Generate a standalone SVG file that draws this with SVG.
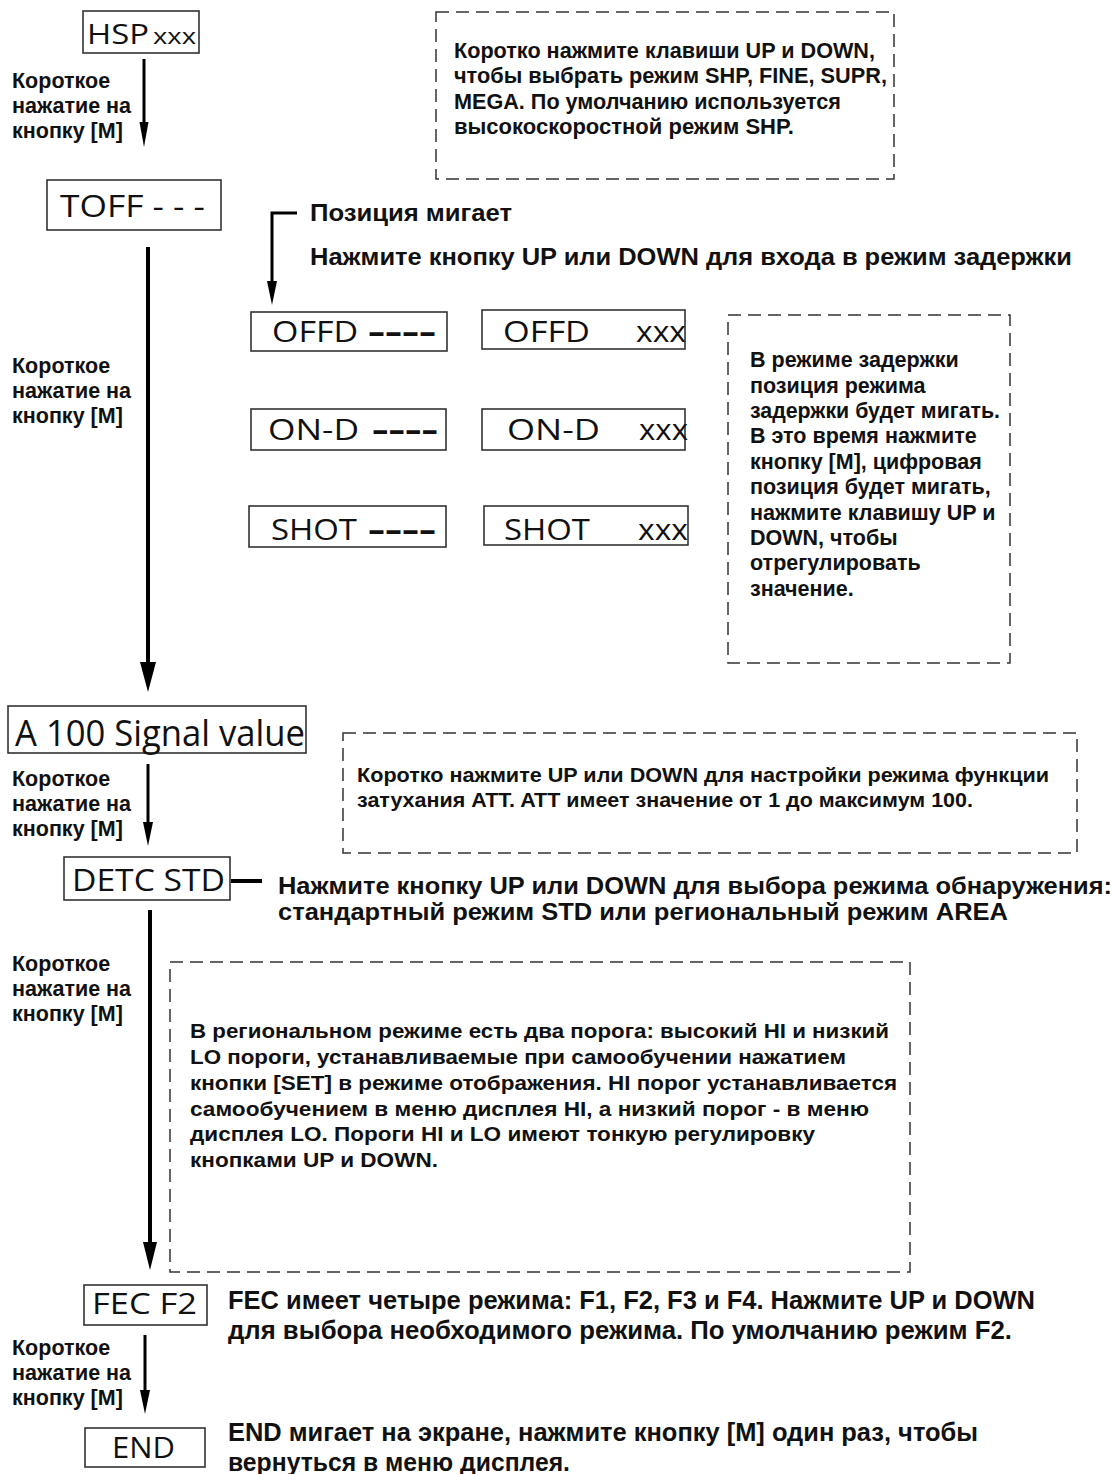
<svg xmlns="http://www.w3.org/2000/svg" width="1117" height="1474" viewBox="0 0 1117 1474">
<style>
.box{fill:#fff;stroke:#333;stroke-width:1.6}
.dash{fill:none;stroke:#333;stroke-width:1.5;stroke-dasharray:13 7}
.disp{font-family:"Open Sans","Noto Sans",sans-serif;fill:#111}
.lbl{font-family:"Liberation Sans",Arial,sans-serif;font-weight:bold;font-size:21.5px;fill:#111}
.note{font-family:"Liberation Sans",Arial,sans-serif;font-weight:bold;font-size:21.5px;fill:#111}
.big{font-family:"Liberation Sans",Arial,sans-serif;font-weight:bold;font-size:24px;fill:#111}
.cond{font-family:"Liberation Sans",Arial,sans-serif;font-weight:bold;fill:#111}
.ln{stroke:#000;fill:none}
.hd{fill:#000}
</style>
<rect width="1117" height="1474" fill="#fff"/>

<g id="hsp">
<rect class="box" x="83" y="11" width="116" height="42"/>
<text class="disp" x="87" y="44" font-size="28" textLength="62" lengthAdjust="spacingAndGlyphs">HSP</text>
<text class="disp" x="153" y="44" font-size="21" textLength="43" lengthAdjust="spacingAndGlyphs">xxx</text>
</g>

<g id="label1">
<text class="lbl" x="12" y="88">Короткое</text>
<text class="lbl" x="12" y="113">нажатие на</text>
<text class="lbl" x="12" y="138">кнопку [M]</text>
</g>

<g id="note-top">
<rect class="dash" x="436" y="12" width="458" height="167"/>
<text class="note" x="454" y="58" textLength="421" lengthAdjust="spacingAndGlyphs">Коротко нажмите клавиши UP и DOWN,</text>
<text class="note" x="454" y="83" textLength="433" lengthAdjust="spacingAndGlyphs">чтобы выбрать режим SHP, FINE, SUPR,</text>
<text class="note" x="454" y="109" textLength="387" lengthAdjust="spacingAndGlyphs">MEGA. По умолчанию используется</text>
<text class="note" x="454" y="134" textLength="340" lengthAdjust="spacingAndGlyphs">высокоскоростной режим SHP.</text>
</g>

<g id="toff">
<rect class="box" x="47" y="180" width="174" height="50"/>
<text class="disp" x="60" y="217" font-size="31" textLength="145" lengthAdjust="spacingAndGlyphs">TOFF - - -</text>
</g>

<g id="label2">
<text class="lbl" x="12" y="373">Короткое</text>
<text class="lbl" x="12" y="398">нажатие на</text>
<text class="lbl" x="12" y="423">кнопку [M]</text>
</g>

<g id="blink-text">
<text class="big" x="310" y="221" textLength="202" lengthAdjust="spacingAndGlyphs">Позиция мигает</text>
<text class="big" x="310" y="265" textLength="762" lengthAdjust="spacingAndGlyphs">Нажмите кнопку UP или DOWN для входа в режим задержки</text>
</g>

<g id="offd-blank">
<rect class="box" x="251" y="312" width="196" height="39"/>
<text class="disp" x="272" y="342" font-size="30" textLength="86" lengthAdjust="spacingAndGlyphs">OFFD</text>
<text class="disp" x="368" y="342" font-size="30" font-weight="bold" textLength="68" lengthAdjust="spacingAndGlyphs">----</text>
</g>
<g id="offd-value">
<rect class="box" x="482" y="310" width="203" height="39"/>
<text class="disp" x="503" y="342" font-size="30" textLength="87" lengthAdjust="spacingAndGlyphs">OFFD</text>
<text class="disp" x="636" y="342" font-size="30" textLength="50" lengthAdjust="spacingAndGlyphs">xxx</text>
</g>
<g id="ond-blank">
<rect class="box" x="251" y="409" width="195" height="41"/>
<text class="disp" x="268" y="440" font-size="30" textLength="91" lengthAdjust="spacingAndGlyphs">ON-D</text>
<text class="disp" x="372" y="440" font-size="30" font-weight="bold" textLength="66" lengthAdjust="spacingAndGlyphs">----</text>
</g>
<g id="ond-value">
<rect class="box" x="482" y="409" width="203" height="41"/>
<text class="disp" x="507" y="440" font-size="30" textLength="93" lengthAdjust="spacingAndGlyphs">ON-D</text>
<text class="disp" x="639" y="440" font-size="30" textLength="49" lengthAdjust="spacingAndGlyphs">xxx</text>
</g>
<g id="shot-blank">
<rect class="box" x="249" y="506" width="197" height="41"/>
<text class="disp" x="271" y="540" font-size="30" textLength="86" lengthAdjust="spacingAndGlyphs">SHOT</text>
<text class="disp" x="368" y="540" font-size="30" font-weight="bold" textLength="68" lengthAdjust="spacingAndGlyphs">----</text>
</g>
<g id="shot-value">
<rect class="box" x="484" y="506" width="204" height="39"/>
<text class="disp" x="504" y="540" font-size="30" textLength="86" lengthAdjust="spacingAndGlyphs">SHOT</text>
<text class="disp" x="638" y="540" font-size="30" textLength="50" lengthAdjust="spacingAndGlyphs">xxx</text>
</g>

<g id="note-delay">
<rect class="dash" x="728" y="315" width="282" height="348"/>
<text class="note" x="750" y="367">В режиме задержки</text>
<text class="note" x="750" y="393">позиция режима</text>
<text class="note" x="750" y="418" textLength="250" lengthAdjust="spacingAndGlyphs">задержки будет мигать.</text>
<text class="note" x="750" y="443">В это время нажмите</text>
<text class="note" x="750" y="469">кнопку [M], цифровая</text>
<text class="note" x="750" y="494">позиция будет мигать,</text>
<text class="note" x="750" y="520">нажмите клавишу UP и</text>
<text class="note" x="750" y="545">DOWN, чтобы</text>
<text class="note" x="750" y="570">отрегулировать</text>
<text class="note" x="750" y="596">значение.</text>
</g>

<g id="a100">
<rect class="box" x="8" y="706" width="298" height="47"/>
<text class="disp" x="15" y="746" font-size="36" textLength="290" lengthAdjust="spacingAndGlyphs">A 100 Signal value</text>
</g>

<g id="label3">
<text class="lbl" x="12" y="786">Короткое</text>
<text class="lbl" x="12" y="811">нажатие на</text>
<text class="lbl" x="12" y="836">кнопку [M]</text>
</g>

<g id="note-att">
<rect class="dash" x="343" y="733" width="734" height="120"/>
<text class="cond" x="357" y="782" font-size="21" textLength="692" lengthAdjust="spacingAndGlyphs">Коротко нажмите UP или DOWN для настройки режима функции</text>
<text class="cond" x="357" y="807" font-size="21" textLength="616" lengthAdjust="spacingAndGlyphs">затухания ATT. ATT имеет значение от 1 до максимум 100.</text>
</g>

<g id="detc">
<rect class="box" x="64" y="857" width="166" height="43"/>
<text class="disp" x="72" y="891" font-size="31" textLength="153" lengthAdjust="spacingAndGlyphs">DETC STD</text>
</g>

<g id="detc-text">
<text class="big" x="278" y="894" font-size="22" textLength="834" lengthAdjust="spacingAndGlyphs">Нажмите кнопку UP или DOWN для выбора режима обнаружения:</text>
<text class="big" x="278" y="920" font-size="22" textLength="730" lengthAdjust="spacingAndGlyphs">стандартный режим STD или региональный режим AREA</text>
</g>

<g id="label4">
<text class="lbl" x="12" y="971">Короткое</text>
<text class="lbl" x="12" y="996">нажатие на</text>
<text class="lbl" x="12" y="1021">кнопку [M]</text>
</g>

<g id="note-area">
<rect class="dash" x="170" y="962" width="740" height="310"/>
<text class="cond" x="190" y="1038" font-size="21" textLength="699" lengthAdjust="spacingAndGlyphs">В региональном режиме есть два порога: высокий HI и низкий</text>
<text class="cond" x="190" y="1064" font-size="21" textLength="656" lengthAdjust="spacingAndGlyphs">LO пороги, устанавливаемые при самообучении нажатием</text>
<text class="cond" x="190" y="1090" font-size="21" textLength="707" lengthAdjust="spacingAndGlyphs">кнопки [SET] в режиме отображения. HI порог устанавливается</text>
<text class="cond" x="190" y="1116" font-size="21" textLength="679" lengthAdjust="spacingAndGlyphs">самообучением в меню дисплея HI, а низкий порог - в меню</text>
<text class="cond" x="190" y="1141" font-size="21" textLength="625" lengthAdjust="spacingAndGlyphs">дисплея LO. Пороги HI и LO имеют тонкую регулировку</text>
<text class="cond" x="190" y="1167" font-size="21" textLength="248" lengthAdjust="spacingAndGlyphs">кнопками UP и DOWN.</text>
</g>

<g id="fec">
<rect class="box" x="84" y="1285" width="123" height="40"/>
<text class="disp" x="92" y="1314" font-size="29" textLength="105" lengthAdjust="spacingAndGlyphs">FEC  F2</text>
</g>

<g id="fec-text">
<text class="cond" x="228" y="1309" font-size="25" textLength="807" lengthAdjust="spacingAndGlyphs">FEC имеет четыре режима: F1, F2, F3 и F4. Нажмите UP и DOWN</text>
<text class="cond" x="228" y="1339" font-size="25" textLength="784" lengthAdjust="spacingAndGlyphs">для выбора необходимого режима. По умолчанию режим F2.</text>
</g>

<g id="label5">
<text class="lbl" x="12" y="1355">Короткое</text>
<text class="lbl" x="12" y="1380">нажатие на</text>
<text class="lbl" x="12" y="1405">кнопку [M]</text>
</g>

<g id="end">
<rect class="box" x="85" y="1428" width="120" height="39"/>
<text class="disp" x="112" y="1458" font-size="29" textLength="63" lengthAdjust="spacingAndGlyphs">END</text>
</g>

<g id="end-text">
<text class="cond" x="228" y="1441" font-size="25" textLength="750" lengthAdjust="spacingAndGlyphs">END мигает на экране, нажмите кнопку [M] один раз, чтобы</text>
<text class="cond" x="228" y="1471" font-size="25" textLength="342" lengthAdjust="spacingAndGlyphs">вернуться в меню дисплея.</text>
</g>

<g id="connectors">
<line class="ln" x1="144" y1="59" x2="144" y2="126" stroke-width="3"/>
<polygon class="hd" points="139.5,122 148.5,122 144,147"/>
<line class="ln" x1="148" y1="247" x2="148" y2="665" stroke-width="4"/>
<polygon class="hd" points="140,662 156,662 148,692"/>
<path class="ln" d="M297,213 H272 V284" stroke-width="3"/>
<polygon class="hd" points="267,281 277,281 272,305"/>
<line class="ln" x1="148" y1="764" x2="148" y2="826" stroke-width="3"/>
<polygon class="hd" points="143,822 153,822 148,846"/>
<line class="ln" x1="231" y1="881" x2="262" y2="881" stroke-width="4"/>
<line class="ln" x1="150" y1="910" x2="150" y2="1245" stroke-width="4"/>
<polygon class="hd" points="143,1242 157,1242 150,1270"/>
<line class="ln" x1="145" y1="1335" x2="145" y2="1393" stroke-width="3"/>
<polygon class="hd" points="140,1390 150,1390 145,1414"/>
</g>
</svg>
